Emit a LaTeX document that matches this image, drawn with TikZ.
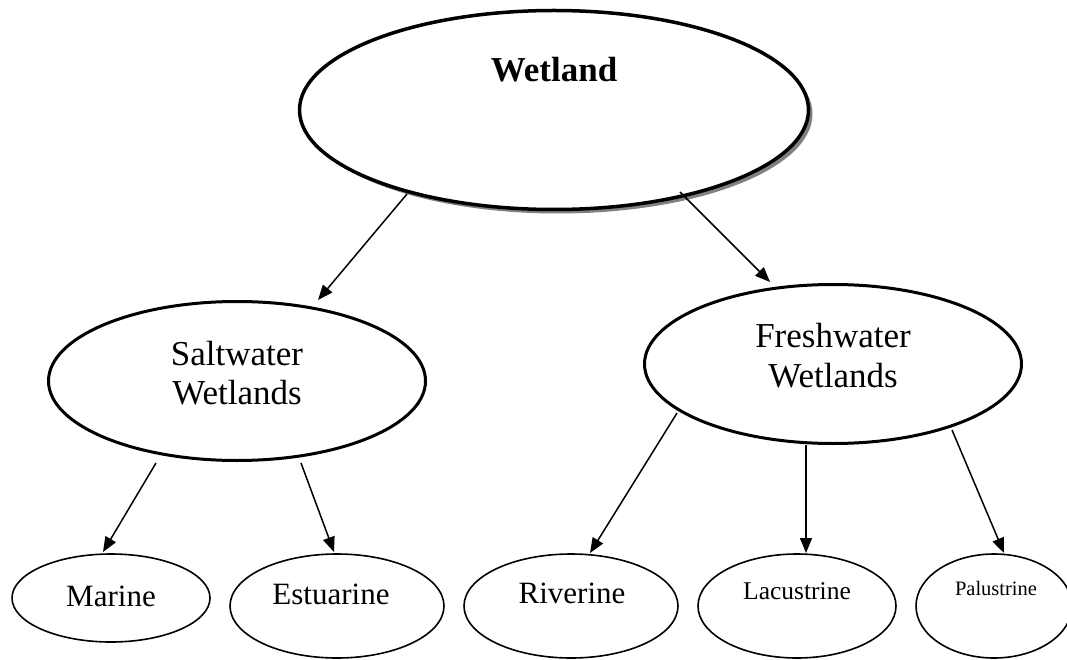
\documentclass[tikz,border=0pt]{standalone}
\usepackage{fontspec}
\setmainfont{Liberation Serif}
\usetikzlibrary{shapes.geometric,arrows.meta,calc,shadows}

\begin{document}
\begin{tikzpicture}[x=1pt,y=-1pt,
  oval/.style={ellipse, draw, fill=white, inner sep=0pt},
  rootoval/.style={oval, line width=3.5pt,
    drop shadow={shadow xshift=4pt, shadow yshift=-4pt, fill=black!50, opacity=1}},
  midoval/.style={oval, line width=3pt},
  leafoval/.style={oval, line width=1.6pt},
  link/.style={line width=1.5pt, -{Triangle[length=15pt,width=12pt]}},
  label/.style={anchor=base, inner sep=0pt, font=\fontsize{#1}{#1}\selectfont},
  label/.default=30
]
\useasboundingbox (0,0) rectangle (1067,660);
\clip (0,0) rectangle (1067,660);

% ellipses
\node[rootoval, minimum width=509pt, minimum height=199pt] (wet)   at (554,110) {};
\node[midoval,  minimum width=377pt, minimum height=159pt] (salt)  at (237,381) {};
\node[midoval,  minimum width=377pt, minimum height=159pt] (fresh) at (833,364) {};
\node[leafoval, minimum width=198pt, minimum height=88pt]  (marine) at (111,598) {};
\node[leafoval, minimum width=214pt, minimum height=104pt] (estu)  at (337,606) {};
\node[leafoval, minimum width=214pt, minimum height=104pt] (river) at (571,606) {};
\node[leafoval, minimum width=198pt, minimum height=104pt] (lacu)  at (797,606) {};
\node[leafoval, minimum width=156pt, minimum height=104pt] (palu)  at (994,606) {};

% labels
\node[label=35, font=\bfseries\fontsize{35}{35}\selectfont] (t-wet) at ($(wet.center)+(0,-28)$) {Wetland};
\node[label=35] (t-salt1)  at ($(salt.center)+(0,-16)$) {Saltwater};
\node[label=35] (t-salt2)  at ($(salt.center)+(0,23)$) {Wetlands};
\node[label=35] (t-fresh1) at ($(fresh.center)+(0,-17)$) {Freshwater};
\node[label=35] (t-fresh2) at ($(fresh.center)+(0,23)$) {Wetlands};
\node[label=31] (t-marine) at ($(marine.center)+(0,8)$) {Marine};
\node[label=31] (t-estu)   at ($(estu.center)+(-6,-2)$) {Estuarine};
\node[label=31] (t-river)  at ($(river.center)+(1,-3)$) {Riverine};
\node[label=25.5] (t-lacu) at ($(lacu.center)+(0,-7)$) {Lacustrine};
\node[label=20.5] (t-palu) at ($(palu.center)+(2,-11)$) {Palustrine};

% connectors
\draw[link] ($(wet.center)+(-147,84)$) -- ($(salt.center)+(81,-81)$);
\draw[link] ($(wet.center)+(126,82)$)  -- ($(fresh.center)+(-63,-82)$);
\draw[link] ($(salt.center)+(-81,82)$) -- ($(marine.center)+(-8,-46)$);
\draw[link] ($(salt.center)+(64,82)$)  -- ($(estu.center)+(-3,-54)$);
\draw[link] ($(fresh.center)+(-156,49)$) -- ($(river.center)+(19,-53)$);
\draw[link] ($(fresh.center)+(-27,81)$)  -- ($(lacu.center)+(9,-53)$);
\draw[link] ($(fresh.center)+(119,66)$)  -- ($(palu.center)+(10,-53)$);
\end{tikzpicture}
\end{document}
